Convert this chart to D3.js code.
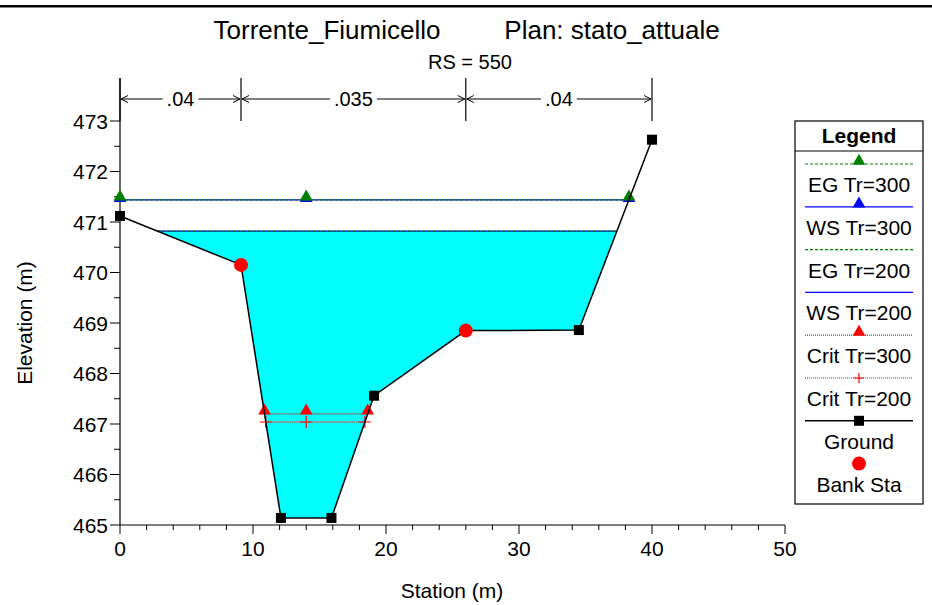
<!DOCTYPE html>
<html>
<head>
<meta charset="utf-8">
<script src="https://cdn.jsdelivr.net/npm/d3@7"></script>
<style>
  html, body { margin: 0; padding: 0; background: #fff; }
  svg { display: block; font-family: "Liberation Sans", Arial, sans-serif; }
</style>
</head>
<body>
<svg id="chart" width="932" height="605"></svg>
<script>
// Cross section RS 550 — ground geometry
const groundSta  = [0, 9.1, 12.1, 15.9, 19.1, 26.0, 34.5, 40.0];
const groundElev = [471.12, 470.15, 465.14, 465.14, 467.56, 468.85, 468.86, 472.63];
const bankSta  = [9.1, 26.0];
const bankElev = [470.15, 468.85];

// Manning's n regions
const nSta = [0, 9.1, 26.0, 40.0];
const nLabels = [".04", ".035", ".04"];

// Profile results
const profiles = ["Tr=300", "Tr=200"];
const egElev   = [471.44, 470.82];
const wsElev   = [471.44, 470.82];
const critElev = [467.20, 467.04];
const markerSta = 14.0;   // interior marker station on profile lines

// Axis ticks
const xTicks = [0, 10, 20, 30, 40, 50];
const yTicks = [465, 466, 467, 468, 469, 470, 471, 472, 473];

const svg = d3.select("#chart");
const x = d3.scaleLinear().domain([0, 50]).range([120, 785]);
const y = d3.scaleLinear().domain([465, 473]).range([525, 121]);

const GREEN = "#008000", BLUE = "#0000ff", RED = "#ff0000";

// top frame rule
svg.append("rect").attr("x", 0).attr("y", 5).attr("width", 932).attr("height", 2.5).attr("fill", "#000");

// titles
svg.append("text").attr("x", 327).attr("y", 39).attr("text-anchor", "middle")
  .attr("font-size", 26).text("Torrente_Fiumicello");
svg.append("text").attr("x", 612).attr("y", 39).attr("text-anchor", "middle")
  .attr("font-size", 26).text("Plan: stato_attuale");
svg.append("text").attr("x", 470).attr("y", 69).attr("text-anchor", "middle")
  .attr("font-size", 20).text("RS = 550");

// ground crossings for a horizontal level: outermost wetted extent
function extent(level) {
  const n = groundSta.length;
  let left, right, li = 0, ri = n - 1;
  if (groundElev[0] <= level) { left = groundSta[0]; li = 0; }
  else {
    for (let i = 0; i < n - 1; i++) {
      const a = groundElev[i], b = groundElev[i + 1];
      if (a > level && b <= level) {
        left = groundSta[i] + (a - level) / (a - b) * (groundSta[i + 1] - groundSta[i]);
        li = i + 1; break;
      }
    }
  }
  if (groundElev[n - 1] <= level) { right = groundSta[n - 1]; ri = n - 1; }
  else {
    for (let i = n - 1; i > 0; i--) {
      const a = groundElev[i], b = groundElev[i - 1];
      if (a > level && b <= level) {
        right = groundSta[i] - (a - level) / (a - b) * (groundSta[i] - groundSta[i - 1]);
        ri = i - 1; break;
      }
    }
  }
  return { left, right, li, ri };
}

// water fill for the lower profile surface
{
  const lvl = wsElev[1];
  const e = extent(lvl);
  const pts = [[e.left, lvl]];
  for (let i = e.li; i <= e.ri; i++) pts.push([groundSta[i], groundElev[i]]);
  pts.push([e.right, lvl]);
  svg.append("path")
    .attr("d", d3.line().x(d => x(d[0])).y(d => y(d[1]))(pts) + "Z")
    .attr("fill", "#00ffff").attr("stroke", "none");
}

// axes
const xAxisG = svg.append("g").attr("transform", `translate(0,${y(465)})`);
xAxisG.append("line").attr("x1", x(0)).attr("x2", x(50)).attr("stroke", "#000").attr("stroke-width", 1.2);
d3.range(0, 51, 2).forEach(v => {
  const major = v % 10 === 0;
  xAxisG.append("line").attr("x1", x(v)).attr("x2", x(v)).attr("y1", 0).attr("y2", major ? 9 : 5)
    .attr("stroke", "#000").attr("stroke-width", 1);
});
xTicks.forEach(v => {
  xAxisG.append("text").attr("x", x(v)).attr("y", 31).attr("text-anchor", "middle")
    .attr("font-size", 21).text(v);
});

const yAxisG = svg.append("g").attr("transform", `translate(${x(0)},0)`);
yAxisG.append("line").attr("y1", y(465)).attr("y2", 78).attr("stroke", "#000").attr("stroke-width", 1.2);
d3.range(465, 473.01, 0.5).forEach(v => {
  const major = Math.abs(v - Math.round(v)) < 1e-6;
  yAxisG.append("line").attr("x1", major ? -10 : -6).attr("x2", 0).attr("y1", y(v)).attr("y2", y(v))
    .attr("stroke", "#000").attr("stroke-width", 1);
});
yTicks.forEach(v => {
  yAxisG.append("text").attr("x", -12).attr("y", y(v) + 7.5).attr("text-anchor", "end")
    .attr("font-size", 21).text(v);
});

svg.append("text").attr("x", 452).attr("y", 598).attr("text-anchor", "middle")
  .attr("font-size", 21).text("Station (m)");
svg.append("text").attr("transform", `translate(32,323) rotate(-90)`)
  .attr("text-anchor", "middle").attr("font-size", 21).text("Elevation (m)");

// Manning's n region bars
{
  const yA = 99;
  nSta.forEach(s => {
    svg.append("line").attr("x1", x(s)).attr("x2", x(s)).attr("y1", 78).attr("y2", y(465) - 404)
      .attr("stroke", "#000").attr("stroke-width", 1.2);
  });
  const arrow = (px, dir) => {
    // open chevron pointing toward px (dir = -1 left, +1 right)
    svg.append("path")
      .attr("d", `M${px - dir * 7},${yA - 3.5}L${px},${yA}L${px - dir * 7},${yA + 3.5}`)
      .attr("fill", "none").attr("stroke", "#000").attr("stroke-width", 1);
  };
  for (let i = 0; i < nLabels.length; i++) {
    const a = x(nSta[i]) + 1, b = x(nSta[i + 1]) - 1, m = (a + b) / 2;
    const t = svg.append("text").attr("x", m).attr("y", yA + 7).attr("text-anchor", "middle")
      .attr("font-size", 20).text(nLabels[i]);
    const w = t.node().getComputedTextLength();
    svg.append("line").attr("x1", a).attr("x2", m - w / 2 - 4).attr("y1", yA).attr("y2", yA)
      .attr("stroke", "#000").attr("stroke-width", 1);
    svg.append("line").attr("x1", m + w / 2 + 4).attr("x2", b).attr("y1", yA).attr("y2", yA)
      .attr("stroke", "#000").attr("stroke-width", 1);
    arrow(a, -1); arrow(b, 1);
  }
}

// profile lines
const tri = d3.symbol().type(d3.symbolTriangle).size(70);
function hLine(level, color, dash, width) {
  const e = extent(level);
  svg.append("line").attr("x1", x(e.left)).attr("x2", x(e.right)).attr("y1", y(level)).attr("y2", y(level))
    .attr("stroke", color).attr("stroke-width", width).attr("stroke-dasharray", dash);
  return [e.left, markerSta, e.right];
}
function triMarks(stas, level, color, dy) {
  stas.forEach(s => svg.append("path").attr("d", tri())
    .attr("transform", `translate(${x(s)},${y(level) - 3 + dy})`).attr("fill", color));
}
function plusMarks(stas, level, color) {
  stas.forEach(s => {
    const px = x(s), py = y(level);
    svg.append("path").attr("d", `M${px - 6},${py}H${px + 6}M${px},${py - 6}V${py + 6}`)
      .attr("stroke", color).attr("stroke-width", 1.2);
  });
}

// water surfaces (solid blue) then energy grades (green dashed)
const ws300 = hLine(wsElev[0], BLUE, null, 1.3);
hLine(wsElev[1], BLUE, null, 1.3);
triMarks(ws300, wsElev[0], BLUE, 1.5);
const eg300 = hLine(egElev[0], GREEN, "3,2", 1.3);
hLine(egElev[1], GREEN, "3,2", 1.3);
triMarks(eg300, egElev[0], GREEN, 0);

// critical depths
const c300 = hLine(critElev[0], RED, "1,1", 1.2);
const c200 = hLine(critElev[1], RED, "1,1", 1.2);
triMarks(c300, critElev[0], RED, 0);
plusMarks(c200, critElev[1], RED);

// ground
svg.append("path")
  .attr("d", d3.line().x((d, i) => x(groundSta[i])).y((d, i) => y(groundElev[i]))(groundSta))
  .attr("fill", "none").attr("stroke", "#000").attr("stroke-width", 1.5);
groundSta.forEach((s, i) => {
  if (bankSta.includes(s)) return;
  svg.append("rect").attr("x", x(s) - 5).attr("y", y(groundElev[i]) - 5).attr("width", 10).attr("height", 10)
    .attr("fill", "#000");
});
bankSta.forEach((s, i) => {
  svg.append("circle").attr("cx", x(s)).attr("cy", y(bankElev[i])).attr("r", 7).attr("fill", RED);
});

// legend
{
  const L = svg.append("g");
  const bx = 795, bw = 128, by = 121, bh = 383;
  L.append("rect").attr("x", bx).attr("y", by).attr("width", bw).attr("height", bh)
    .attr("fill", "#fff").attr("stroke", "#000").attr("stroke-width", 1.2);
  L.append("line").attr("x1", bx).attr("x2", bx + bw).attr("y1", 151).attr("y2", 151)
    .attr("stroke", "#000").attr("stroke-width", 1.2);
  L.append("text").attr("x", bx + bw / 2).attr("y", 143).attr("text-anchor", "middle")
    .attr("font-size", 21).attr("font-weight", "bold").text("Legend");
  const names = [
    "EG " + profiles[0], "WS " + profiles[0], "EG " + profiles[1], "WS " + profiles[1],
    "Crit " + profiles[0], "Crit " + profiles[1], "Ground", "Bank Sta"
  ];
  const styles = [
    { c: GREEN, d: "3,2", m: "tri" }, { c: BLUE, d: null, m: "tri" },
    { c: GREEN, d: "3,2", m: null }, { c: BLUE, d: null, m: null },
    { c: RED, d: "1,1", m: "tri" }, { c: RED, d: "1,1", m: "plus" },
    { c: "#000", d: null, m: "sq" }, { c: null, d: null, m: "circ" }
  ];
  const x1 = 805, x2 = 913, mx = 859;
  names.forEach((nm, i) => {
    const ly = 164 + i * 42.8;
    const st = styles[i];
    if (st.c) L.append("line").attr("x1", x1).attr("x2", x2).attr("y1", ly).attr("y2", ly)
      .attr("stroke", st.c).attr("stroke-width", st.c === "#000" ? 1.5 : 1.2).attr("stroke-dasharray", st.d);
    if (st.m === "tri") L.append("path").attr("d", tri()).attr("transform", `translate(${mx},${ly - 3})`).attr("fill", st.c);
    if (st.m === "plus") L.append("path").attr("d", `M${mx - 5},${ly}H${mx + 5}M${mx},${ly - 5}V${ly + 5}`)
      .attr("stroke", st.c).attr("stroke-width", 1.2);
    if (st.m === "sq") L.append("rect").attr("x", mx - 5).attr("y", ly - 5).attr("width", 10).attr("height", 10).attr("fill", "#000");
    if (st.m === "circ") L.append("circle").attr("cx", mx).attr("cy", ly).attr("r", 7).attr("fill", RED);
    L.append("text").attr("x", bx + bw / 2).attr("y", ly + 28).attr("text-anchor", "middle")
      .attr("font-size", 21).text(nm);
  });
}
</script>
</body>
</html>
